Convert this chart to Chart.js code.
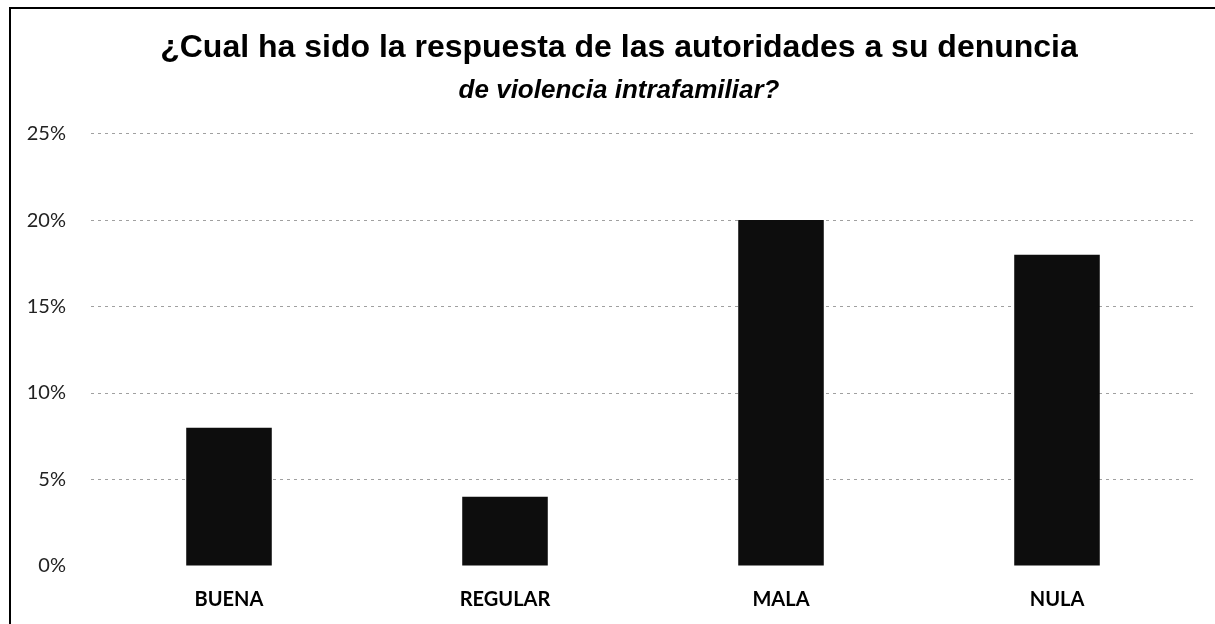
<!DOCTYPE html>
<html>
<head>
<meta charset="utf-8">
<script src="https://cdn.jsdelivr.net/npm/chart.js@4/dist/chart.umd.min.js"></script>
<style>
  html, body { margin: 0; padding: 0; background: #fff; overflow: hidden; }
  #frame { position: absolute; left: 9px; top: 7px; width: 1230px; height: 630px;
           border-left: 2px solid #000; border-top: 2px solid #000; }
  #wrap { position: absolute; left: 0; top: 0; width: 1216px; height: 615px; }
</style>
</head>
<body>
<div id="frame"><div id="wrap"><canvas id="c"></canvas></div></div>
<script>
const categories = ['BUENA', 'REGULAR', 'MALA', 'NULA'];
const values = [8, 4, 20, 18];
const yTicks = [0, 5, 10, 15, 20, 25];
const titleLine1 = '¿Cual ha sido la respuesta de las autoridades a su denuncia';
const titleLine2 = 'de violencia intrafamiliar?';

const titleShift = {
  id: 'titleShift',
  afterLayout(chart) {
    chart.boxes.forEach(b => {
      if (b.options && b.options.text !== undefined && b.position === 'top') {
        b.left += 16;
        b.right += 16;
      }
    });
  }
};

new Chart(document.getElementById('c'), {
  type: 'bar',
  data: {
    labels: categories,
    datasets: [{
      data: values,
      backgroundColor: '#0d0d0d',
      borderWidth: 0,
      barPercentage: 0.62,
      categoryPercentage: 0.5
    }]
  },
  options: {
    responsive: true,
    maintainAspectRatio: false,
    animation: false,
    layout: { padding: { left: 0, right: 32, top: 0, bottom: 0 } },
    plugins: {
      legend: { display: false },
      tooltip: { enabled: false },
      title: {
        display: true,
        text: titleLine1,
        color: '#000',
        font: { family: 'Liberation Sans', size: 32, weight: 'bold' },
        padding: { top: 20, bottom: 8 }
      },
      subtitle: {
        display: true,
        text: titleLine2,
        color: '#000',
        font: { family: 'Liberation Sans', size: 26, weight: 'bold', style: 'italic' },
        padding: { top: 0, bottom: 27 }
      }
    },
    scales: {
      x: {
        grid: { display: false, drawTicks: false },
        border: { display: false },
        ticks: {
          color: '#000',
          font: { family: 'Lato', size: 20, weight: 'bold' },
          padding: 22
        },
        afterFit: (axis) => { axis.height = 58; }
      },
      y: {
        min: 0,
        max: 25,
        afterBuildTicks: (axis) => { axis.ticks = yTicks.map(v => ({ value: v })); },
        border: { display: false, dash: [3, 4] },
        grid: {
          color: (ctx) => ctx.tick && ctx.tick.value === 0 ? 'rgba(0,0,0,0)' : '#a0a0a0',
          lineWidth: 1,
          drawTicks: false
        },
        ticks: {
          color: '#222',
          font: { family: 'Lato', size: 20 },
          padding: 25,
          callback: (v) => v + '%'
        },
        afterFit: (axis) => { axis.width = 80; }
      }
    }
  },
  plugins: [titleShift]
});
</script>
</body>
</html>
